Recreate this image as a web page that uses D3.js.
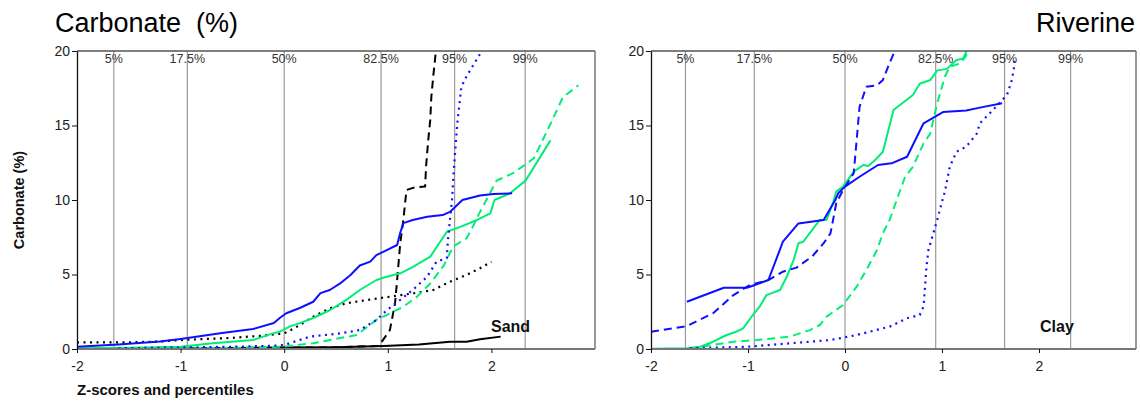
<!DOCTYPE html>
<html>
<head>
<meta charset="utf-8">
<script src="https://cdn.jsdelivr.net/npm/d3@7"></script>
<style>
  body { margin: 0; background: #fff; }
  svg { display: block; font-family: "Liberation Sans", Arial, sans-serif; }
</style>
</head>
<body>
<div id="vis"></div>
<script>
////////// data ///////////////////////////////////////////////
const zTicks = [-2, -1, 0, 1, 2];
const vTicks = [0, 5, 10, 15, 20];
const pctLabels = ["5%", "17.5%", "50%", "82.5%", "95%", "99%"];
const pctZ = [-1.645, -0.935, 0, 0.935, 1.645, 2.326];

// Sand panel: [z-score, carbonate %]
const sandBlueSolid = [[-2.0,0.15],[-1.6,0.3],[-1.2,0.5],[-1.0,0.67],[-0.6,1.07],[-0.3,1.34],[-0.1,1.74],[-0.04,2.1],[0.02,2.4],[0.15,2.75],[0.28,3.17],[0.35,3.75],[0.44,3.96],[0.54,4.4],[0.64,4.97],[0.73,5.6],[0.83,5.86],[0.89,6.3],[0.99,6.64],[1.09,6.98],[1.12,7.8],[1.15,8.45],[1.24,8.66],[1.38,8.88],[1.53,8.99],[1.6,9.2],[1.72,10.0],[1.89,10.3],[2.02,10.4],[2.2,10.45]];
const sandBlueDotted = [[-1.6,0.05],[-1.0,0.1],[-0.5,0.15],[-0.1,0.22],[0.0,0.27],[0.25,0.83],[0.54,1.05],[0.73,1.27],[0.89,1.95],[0.99,2.6],[1.12,3.3],[1.24,3.96],[1.38,4.85],[1.47,5.86],[1.57,6.1],[1.58,7.3],[1.6,8.66],[1.62,10.0],[1.635,11.8],[1.67,15.1],[1.71,17.6],[1.76,18.3],[1.89,19.8],[1.93,20.5]];
const sandGreenSolid = [[-2.0,0.05],[-1.5,0.08],[-1.0,0.15],[-0.69,0.38],[-0.3,0.6],[-0.11,1.05],[-0.04,1.16],[0.05,1.5],[0.15,1.74],[0.28,2.08],[0.44,2.6],[0.6,3.3],[0.73,3.96],[0.89,4.63],[0.99,4.85],[1.12,5.08],[1.24,5.5],[1.41,6.2],[1.57,7.87],[1.7,8.2],[1.86,8.66],[1.99,9.1],[2.03,10.0],[2.18,10.45],[2.33,11.3],[2.57,14.0]];
const sandGreenDashed = [[-2.0,0.02],[-1.0,0.04],[-0.5,0.08],[0.0,0.15],[0.05,0.22],[0.28,0.38],[0.44,0.6],[0.7,0.94],[0.89,1.95],[0.99,2.28],[1.15,2.84],[1.28,3.5],[1.41,4.4],[1.54,5.6],[1.63,6.87],[1.76,7.43],[1.82,8.2],[1.89,9.2],[2.05,11.3],[2.21,11.8],[2.41,12.8],[2.57,15.1],[2.69,16.9],[2.84,17.7]];
const sandBlackSolid = [[-2.0,0.0],[-1.0,0.02],[0.0,0.1],[0.5,0.12],[0.96,0.2],[1.3,0.3],[1.6,0.49],[1.76,0.49],[1.89,0.65],[2.09,0.83]];
const sandBlackDashed = [[-1.3,0.02],[-0.5,0.05],[0.0,0.08],[0.5,0.12],[0.9,0.2],[0.92,0.27],[1.02,1.27],[1.07,3.07],[1.09,4.63],[1.12,7.1],[1.15,8.66],[1.18,10.67],[1.25,10.83],[1.36,10.9],[1.37,12.3],[1.39,14.0],[1.41,15.4],[1.42,16.9],[1.44,18.4],[1.46,19.7],[1.47,20.3]];
const sandBlackDotted = [[-2.0,0.45],[-1.5,0.45],[-1.2,0.5],[-1.0,0.6],[-0.5,0.75],[-0.2,0.9],[0.0,1.05],[0.1,1.4],[0.28,2.17],[0.44,2.73],[0.6,3.07],[0.8,3.29],[1.02,3.51],[1.25,3.74],[1.44,3.96],[1.6,4.52],[1.76,4.97],[1.89,5.42],[2.0,5.86]];

// Clay panel
const clayBlueSolid = [[-1.63,3.17],[-1.25,4.11],[-1.01,4.11],[-0.79,4.63],[-0.64,7.2],[-0.48,8.43],[-0.22,8.66],[-0.1,10.0],[-0.07,10.45],[0.0,10.9],[0.15,11.56],[0.34,12.35],[0.48,12.46],[0.64,12.9],[0.81,15.15],[1.01,15.9],[1.25,16.0],[1.39,16.2],[1.62,16.5]];
const clayBlueDashed = [[-2.0,1.16],[-1.63,1.54],[-1.36,2.4],[-1.15,3.62],[-0.98,4.3],[-0.79,4.63],[-0.64,5.19],[-0.5,5.46],[-0.34,6.2],[-0.22,7.1],[-0.15,7.76],[-0.12,8.77],[-0.09,9.78],[-0.02,10.67],[0.09,11.8],[0.12,14.0],[0.15,16.26],[0.22,17.6],[0.33,17.7],[0.39,18.05],[0.46,19.2],[0.52,20.1]];
const clayBlueDotted = [[-1.6,0.05],[-1.01,0.15],[-0.57,0.38],[-0.15,0.6],[0.12,0.94],[0.46,1.5],[0.64,2.06],[0.77,2.28],[0.81,2.84],[0.82,3.74],[0.84,5.52],[0.86,6.64],[0.91,7.76],[0.96,8.88],[1.0,9.89],[1.03,10.56],[1.08,12.23],[1.15,13.24],[1.25,13.58],[1.36,14.47],[1.39,15.15],[1.49,15.8],[1.67,17.05],[1.72,18.05],[1.74,18.8],[1.75,19.5]];
const clayGreenSolid = [[-2.0,0.02],[-1.63,0.05],[-1.49,0.15],[-1.36,0.49],[-1.22,0.94],[-1.12,1.16],[-1.05,1.39],[-0.95,2.28],[-0.88,2.84],[-0.81,3.62],[-0.67,3.96],[-0.6,4.85],[-0.53,5.97],[-0.48,7.1],[-0.43,7.2],[-0.26,8.66],[-0.19,8.66],[-0.12,9.9],[-0.09,10.56],[-0.02,10.9],[0.09,11.9],[0.19,12.35],[0.24,12.28],[0.31,12.68],[0.39,13.24],[0.46,15.0],[0.5,16.04],[0.7,17.05],[0.77,17.8],[0.88,18.05],[0.95,18.7],[1.05,18.8],[1.15,19.4],[1.22,19.5],[1.26,20.1]];
const clayGreenDashed = [[-1.6,0.05],[-1.36,0.27],[-1.15,0.49],[-0.91,0.6],[-0.57,0.83],[-0.36,1.27],[-0.26,1.61],[-0.19,2.17],[-0.02,2.95],[0.12,4.18],[0.22,5.3],[0.33,6.64],[0.39,7.76],[0.46,8.66],[0.57,10.67],[0.62,11.56],[0.7,12.23],[0.81,13.8],[0.88,14.47],[0.91,15.37],[0.95,16.49],[1.03,18.28],[1.08,18.95],[1.19,19.17],[1.24,19.6],[1.28,20.1]];

////////// setting up /////////////////////////////////////////
const width = 1140, height = 401;
const BLUE = "#0f0fff", GREEN = "#00ee76", BLACK = "#000";
const DASH = "8,5", DOT = "2,4.5";
const FONT = "'Liberation Sans', Arial, sans-serif";

const panels = [
  { name: "sand", label: "Sand", x0: 77, x1: 595, labelX: 491, yLabel: true,
    series: [
      { d: sandBlackSolid, c: BLACK, dash: null },
      { d: sandBlackDashed, c: BLACK, dash: DASH },
      { d: sandBlackDotted, c: BLACK, dash: DOT },
      { d: sandGreenDashed, c: GREEN, dash: DASH },
      { d: sandGreenSolid, c: GREEN, dash: null },
      { d: sandBlueDotted, c: BLUE, dash: DOT },
      { d: sandBlueSolid, c: BLUE, dash: null }
    ] },
  { name: "clay", label: "Clay", x0: 651, x1: 1136, labelX: 1040, yLabel: false,
    series: [
      { d: clayGreenDashed, c: GREEN, dash: DASH },
      { d: clayGreenSolid, c: GREEN, dash: null },
      { d: clayBlueDotted, c: BLUE, dash: DOT },
      { d: clayBlueDashed, c: BLUE, dash: DASH },
      { d: clayBlueSolid, c: BLUE, dash: null }
    ] }
];

const yTop = 51, yBot = 349;

const svg = d3.select("#vis").append("svg")
  .attr("width", width)
  .attr("height", height);

// titles
svg.append("text").attr("x", 55).attr("y", 32)
  .attr("font-size", 27).attr("fill", "#000")
  .attr("xml:space", "preserve")
  .text("Carbonate  (%)");
svg.append("text").attr("x", 1135).attr("y", 32)
  .attr("font-size", 27).attr("fill", "#000")
  .attr("text-anchor", "end")
  .text("Riverine");

panels.forEach(p => {
  const x = d3.scaleLinear().domain([-2, 3]).range([p.x0, p.x1]);
  const y = d3.scaleLinear().domain([0, 20]).range([yBot, yTop]);
  const g = svg.append("g");

  // clip
  g.append("clipPath").attr("id", "clip-" + p.name)
    .append("rect").attr("x", p.x0).attr("y", yTop)
    .attr("width", p.x1 - p.x0).attr("height", yBot - yTop);

  // percentile lines
  g.selectAll(".pct").data(pctZ).join("line")
    .attr("x1", d => x(d)).attr("x2", d => x(d))
    .attr("y1", yTop).attr("y2", yBot)
    .attr("stroke", "#999").attr("stroke-width", 1.2);
  g.selectAll(".pctlab").data(pctLabels).join("text")
    .attr("x", (d, i) => x(pctZ[i])).attr("y", 63)
    .attr("text-anchor", "middle").attr("font-size", 12.5).attr("fill", "#333")
    .text(d => d);

  // series
  const line = d3.line().x(d => x(d[0])).y(d => y(d[1]));
  g.append("g").attr("clip-path", "url(#clip-" + p.name + ")")
    .selectAll("path").data(p.series).join("path")
    .attr("d", s => line(s.d))
    .attr("fill", "none")
    .attr("stroke", s => s.c)
    .attr("stroke-width", s => s.dash === DOT ? 2.2 : 2)
    .attr("stroke-dasharray", s => s.dash)
    .attr("stroke-linejoin", "round");

  // frame
  g.append("line").attr("x1", p.x0).attr("x2", p.x1).attr("y1", yTop).attr("y2", yTop)
    .attr("stroke", "#555").attr("stroke-width", 1.5);
  g.append("line").attr("x1", p.x1).attr("x2", p.x1).attr("y1", yTop).attr("y2", yBot)
    .attr("stroke", "#777").attr("stroke-width", 1.5);
  g.append("line").attr("x1", p.x0).attr("x2", p.x1).attr("y1", yBot).attr("y2", yBot)
    .attr("stroke", "#777").attr("stroke-width", 2);

  // axes
  const ya = g.append("g").attr("transform", `translate(${p.x0},0)`)
    .call(d3.axisLeft(y).tickValues(vTicks).tickSize(5).tickPadding(2).tickSizeOuter(0));
  ya.select(".domain").attr("stroke", "#111").attr("stroke-width", 1.3);
  ya.selectAll(".tick line").attr("stroke", "#111");
  ya.selectAll("text").attr("font-size", 14).attr("fill", "#222")
    .attr("font-family", FONT);

  const xa = g.append("g").attr("transform", `translate(0,${yBot})`)
    .call(d3.axisBottom(x).tickValues(zTicks).tickSize(4).tickPadding(8).tickFormat(d3.format("d")));
  xa.select(".domain").remove();
  xa.selectAll(".tick line").attr("stroke", "#111");
  xa.selectAll("text").attr("font-size", 14).attr("fill", "#222")
    .attr("font-family", FONT)
    .text(d => d < 0 ? "-" + Math.abs(d) : d);

  // panel label
  g.append("text").attr("x", p.labelX).attr("y", 332)
    .attr("font-size", 16).attr("font-weight", "bold").attr("fill", "#111")
    .text(p.label);

  if (p.yLabel) {
    g.append("text")
      .attr("transform", `translate(24,200) rotate(-90)`)
      .attr("text-anchor", "middle")
      .attr("font-size", 14.5).attr("font-weight", "bold").attr("fill", "#111")
      .text("Carbonate (%)");
    g.append("text").attr("x", 77).attr("y", 395)
      .attr("font-size", 15).attr("font-weight", "bold").attr("fill", "#111")
      .text("Z-scores and percentiles");
  }
});
</script>
</body>
</html>
